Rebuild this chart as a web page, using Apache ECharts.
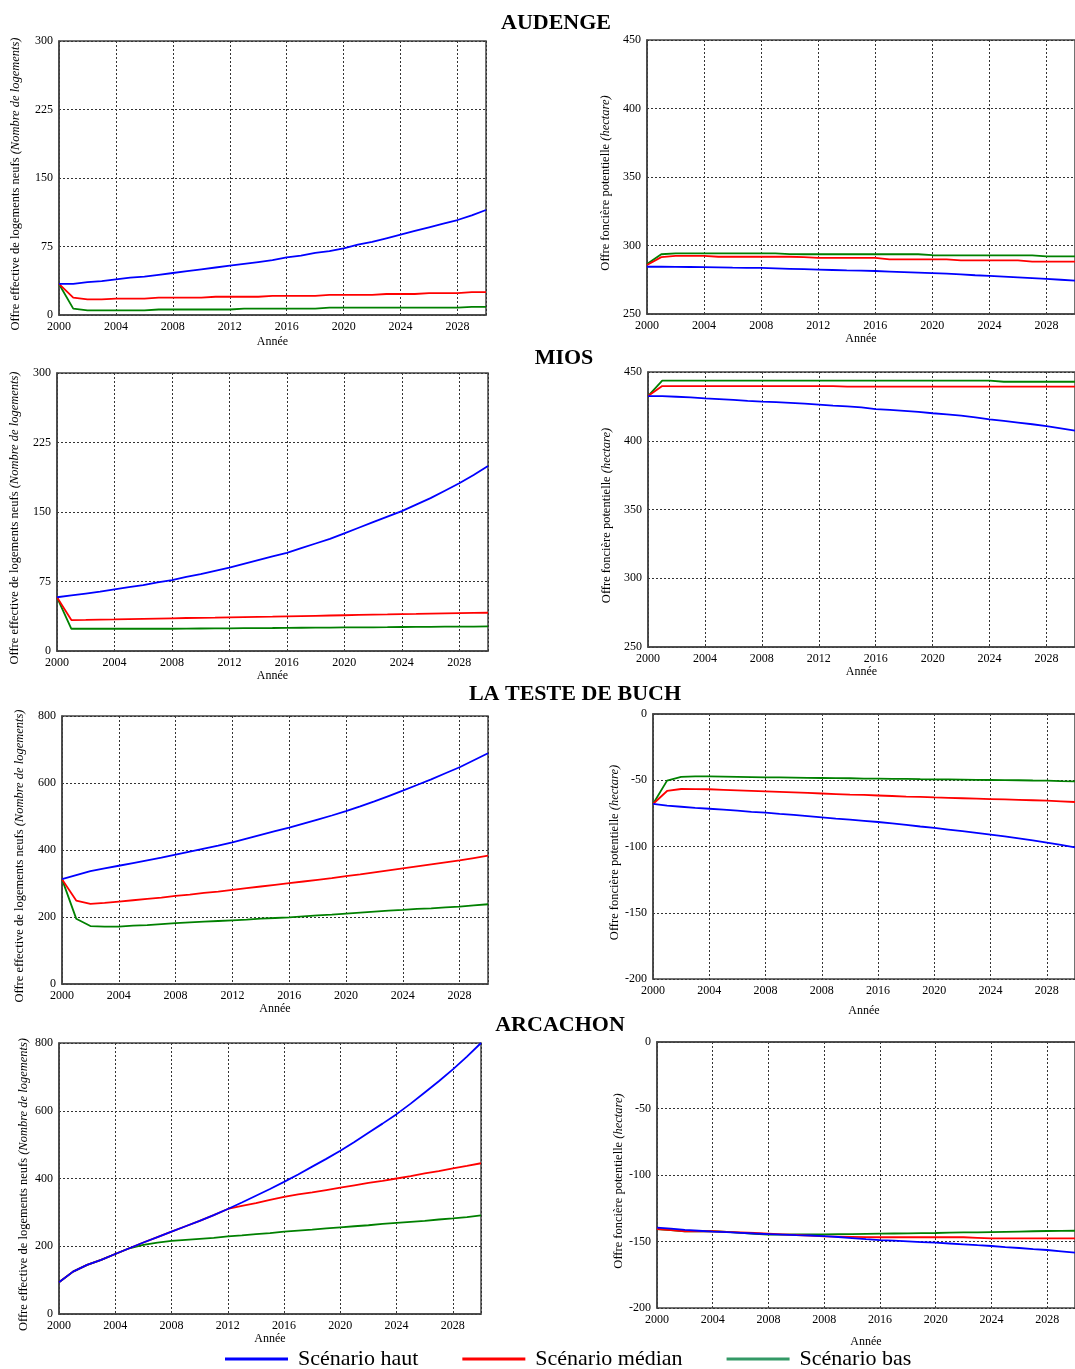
<!DOCTYPE html>
<html>
<head>
<meta charset="utf-8">
<script src="https://cdn.jsdelivr.net/npm/echarts@6/dist/echarts.min.js"></script>
<style>
html,body{margin:0;padding:0;background:#fff}
#main{width:1075px;height:1369px}
</style>
</head>
<body>
<div id="main"></div>
<script>
// années de simulation
var annees = [2000,2001,2002,2003,2004,2005,2006,2007,2008,2009,2010,2011,2012,2013,2014,2015,
              2016,2017,2018,2019,2020,2021,2022,2023,2024,2025,2026,2027,2028,2029,2030];
// libellés de l'axe des x (les deux derniers graphiques répètent 2008)
var xlabels = ['2000','2004','2008','2012','2016','2020','2024','2028'];
var xlabels_bis = ['2000','2004','2008','2008','2016','2020','2024','2028'];

var communes = ['AUDENGE','MIOS','LA TESTE DE BUCH','ARCACHON'];
var scenarios = ['Scénario haut','Scénario médian','Scénario bas'];

// AUDENGE
var audenge_log_haut = [34,34,36,37,39,41,42,44,46,48,50,52,54,56,58,60,63,65,68,70,73,77,80,84,88,92,96,100,104,109,115];
var audenge_log_median = [34,19,17,17,18,18,18,19,19,19,19,20,20,20,20,21,21,21,21,22,22,22,22,23,23,23,24,24,24,25,25];
var audenge_log_bas = [34,7,5,5,5,5,5,6,6,6,6,6,6,7,7,7,7,7,7,8,8,8,8,8,8,8,8,8,8,9,9];
var audenge_fon_haut = [284.5,284.5,284.4,284.3,284.2,284,283.8,283.7,283.6,283.3,283,282.7,282.4,282.1,281.8,281.6,
                        281.4,281,280.6,280.2,279.8,279.4,278.9,278.3,277.8,277.3,276.8,276.2,275.6,275,274.3];
var audenge_fon_median = [285.8,291.5,292.5,292.5,292.5,291.8,291.8,291.8,291.8,291.8,291.8,291.5,290.9,290.9,290.9,290.9,
                          290.9,289.9,289.9,289.9,289.9,289.9,289.2,289.2,289.2,289.2,289.2,288.2,288.2,288.2,288.2];
var audenge_fon_bas = [286.5,293.6,294.2,294.3,294.3,294.3,294.3,294.3,294.3,294.3,293.7,293.6,293.6,293.6,293.6,293.6,
                       293.6,293.6,293.6,293.6,292.9,292.8,292.8,292.8,292.8,292.8,292.8,292.8,292.1,292,292];

// MIOS
var mios_log_haut = [58,60,62,64,66.5,69,71,74,76.5,80,83,86.5,90,94,98,102,106,111,116,121,127,133,139,145,151,158,165,173,181,190,199.6];
var mios_log_median = [58,33.4,33.6,33.9,34.1,34.4,34.7,35,35.3,35.6,35.8,36,36.3,36.6,36.9,37.1,37.4,37.7,38,38.3,38.6,
                       38.9,39.2,39.5,39.9,40.1,40.4,40.7,40.9,41.1,41.3];
var mios_log_bas = [58,24,24,24,24,24,24,24,24,24.2,24.3,24.4,24.5,24.6,24.7,24.8,25,25.1,25.2,25.3,25.4,25.5,25.6,25.7,
                    25.9,26,26.1,26.2,26.3,26.4,26.5];
var mios_fon_haut = [432.5,432.4,432,431.5,430.8,430.3,429.7,429,428.4,428.1,427.6,427,426.3,425.6,425,424.3,423,422.4,
                     421.7,421,420,419.2,418.3,417,415.6,414.4,413.2,412,410.7,409,407.3];
var mios_fon_median = [432.5,439.8,439.8,439.8,439.8,439.8,439.8,439.8,439.8,439.8,439.8,439.8,439.8,439.8,439.3,439.3,
                       439.3,439.3,439.3,439.3,439.3,439.3,439.3,439.3,439.3,439.3,439.3,439.3,439.3,439.3,439.3];
var mios_fon_bas = [432.5,443.7,443.7,443.7,443.7,443.7,443.7,443.7,443.7,443.7,443.7,443.7,443.7,443.7,443.7,443.7,
                    443.7,443.7,443.7,443.7,443.7,443.7,443.7,443.7,443.7,442.9,442.9,442.9,442.9,442.9,442.9];

// LA TESTE DE BUCH
var teste_log_haut = [313,325,337,345,353,361,369,377,386,395,404,413,423,434,445,456,467,479,491,503,516,530,545,561,
                      577,594,611,629,647,668,689];
var teste_log_median = [313,249,239,242,246,250,254,258,263,267,272,276,281,286,291,296,301,306,311,316,322,327,333,339,
                        345,351,357,363,369,376,383];
var teste_log_bas = [313,195,173,171,171.5,174,176,179,182,184,186,188,190,192,195,197,199,202,205,207,210,213,216,219,
                     221,224,226,229,231,235,238];
var teste_fon_haut = [-67.9,-69.2,-70,-70.8,-71.5,-72.2,-73,-73.8,-74.5,-75.4,-76.2,-77.1,-78,-78.9,-79.7,-80.6,-81.5,
                      -82.6,-83.7,-84.9,-86,-87.2,-88.4,-89.7,-91,-92.4,-93.9,-95.4,-97,-98.8,-100.6];
var teste_fon_median = [-67.9,-58.1,-56.6,-56.7,-56.8,-57.2,-57.6,-58,-58.4,-58.8,-59.2,-59.6,-60,-60.4,-60.8,-61.1,-61.5,
                        -61.9,-62.3,-62.6,-63,-63.3,-63.6,-63.9,-64.2,-64.5,-64.8,-65.1,-65.4,-65.9,-66.4];
var teste_fon_bas = [-67.9,-50.3,-47.5,-47,-47,-47.2,-47.4,-47.6,-47.8,-47.9,-48,-48.2,-48.3,-48.4,-48.5,-48.7,-48.8,
                     -48.9,-49,-49.2,-49.3,-49.4,-49.5,-49.7,-49.8,-49.9,-50,-50.2,-50.3,-50.6,-50.8];

// ARCACHON
var arcachon_log_haut = [93.5,125,145,160,177,194,211,227,243,259,275,292,310,329,349,369,390,412,435,458,482,508,535,
                         562,590,621,654,687,722,760,800];
var arcachon_log_median = [93.5,125,145,160,177,194,211,227,243,259,275,292,310,319,327,337,346,353,359,366,373,380,387,
                           393,400,407,415,422,430,437,445];
var arcachon_log_bas = [93.5,125,145,160,177,194,204,211,216,219,222,225,229,232,236,239,243,246,249,253,256,259,262,
                        266,269,272,275,279,282,286,291];
var arcachon_fon_haut = [-139.6,-140.3,-141.2,-141.9,-142.6,-143,-143.5,-144,-144.4,-144.8,-145.2,-145.5,-145.9,-146.6,
                         -147.4,-148.2,-148.9,-149.4,-149.9,-150.4,-150.9,-151.5,-152.1,-152.8,-153.4,-154.2,-154.9,
                         -155.7,-156.4,-157.4,-158.4];
var arcachon_fon_median = [-140.6,-141.4,-142.3,-142.3,-142.3,-142.8,-143.2,-143.6,-144.1,-144.6,-145.1,-145.6,-146.1,
                           -146.3,-146.5,-146.7,-146.8,-146.8,-146.8,-146.8,-146.8,-146.8,-146.8,-147.2,-147.6,-147.6,
                           -147.6,-147.6,-147.6,-147.6,-147.6];
var arcachon_fon_bas = [-140.6,-141.4,-142.3,-142.3,-142.3,-142.8,-143.5,-144.3,-144.9,-144.8,-144.7,-144.6,-144.6,
                        -144.5,-144.4,-144.2,-144.1,-144,-143.9,-143.7,-143.6,-143.4,-143.2,-143.1,-142.9,-142.7,
                        -142.5,-142.3,-142.1,-142,-141.9];

var couleurs = ['#0000ff','#ff0000','#008000'];
var police = 'Liberation Serif';
var nomLogements = 'Offre effective de logements neufs {i|(Nombre de logements)}';
var nomFoncier = 'Offre foncière potentielle {i|(hectare)}';

// un panneau = une grille (position) + ses axes + ses trois courbes
var panneaux = [
    {pos:{left:59, top:41, width:427, height:274}, ymin:0, ymax:300, pas:75, nom:nomLogements, ngap:37, agap:21, xl:xlabels,
     series:[audenge_log_haut, audenge_log_median, audenge_log_bas]},
    {pos:{left:647, top:40, width:434, height:274}, ymin:250, ymax:450, pas:50, nom:nomFoncier, ngap:35, agap:19, xl:xlabels,
     series:[audenge_fon_haut, audenge_fon_median, audenge_fon_bas]},
    {pos:{left:57, top:373, width:431, height:278}, ymin:0, ymax:300, pas:75, nom:nomLogements, ngap:36, agap:17, xl:xlabels,
     series:[mios_log_haut, mios_log_median, mios_log_bas]},
    {pos:{left:648, top:372, width:434, height:275}, ymin:250, ymax:450, pas:50, nom:nomFoncier, ngap:35, agap:18, xl:xlabels,
     series:[mios_fon_haut, mios_fon_median, mios_fon_bas]},
    {pos:{left:62, top:716, width:426, height:268}, ymin:0, ymax:800, pas:200, nom:nomLogements, ngap:36, agap:17, xl:xlabels,
     series:[teste_log_haut, teste_log_median, teste_log_bas]},
    {pos:{left:653, top:714, width:422, height:265}, ymin:-200, ymax:0, pas:50, nom:nomFoncier, ngap:29, agap:26, xl:xlabels_bis,
     series:[teste_fon_haut, teste_fon_median, teste_fon_bas]},
    {pos:{left:59, top:1043, width:422, height:271}, ymin:0, ymax:800, pas:200, nom:nomLogements, ngap:29, agap:19, xl:xlabels,
     series:[arcachon_log_haut, arcachon_log_median, arcachon_log_bas]},
    {pos:{left:657, top:1042, width:424, height:266}, ymin:-200, ymax:0, pas:50, nom:nomFoncier, ngap:31, agap:28, xl:xlabels_bis,
     series:[arcachon_fon_haut, arcachon_fon_median, arcachon_fon_bas]}
];

// positions des titres de commune (centre x, haut)
var titresPos = [[556, 12], [564, 347], [575, 683], [560, 1014]];

function paires(valeurs){
    var res = [];
    for (var i = 0; i < annees.length; i++) {
        res.push([annees[i], valeurs[i]]);
    }
    return res;
}

function construireOption(){
    var grids = [], xAxes = [], yAxes = [], series = [], titres = [];

    for (var t = 0; t < communes.length; t++) {
        titres.push({
            text: communes[t], left: titresPos[t][0], top: titresPos[t][1], textAlign: 'center', padding: 0,
            textStyle: {fontFamily: police, fontSize: 22, fontWeight: 'bold', color: '#000'}
        });
    }

    panneaux.forEach(function (p, i) {
        grids.push({
            left: p.pos.left, top: p.pos.top, width: p.pos.width, height: p.pos.height,
            show: true, borderColor: '#444', borderWidth: 1.5
        });
        var xl = p.xl;
        xAxes.push({
            type: 'value', gridIndex: i, min: 2000, max: 2030, interval: 4,
            name: 'Année', nameLocation: 'middle', nameGap: p.agap,
            nameTextStyle: {fontFamily: police, fontSize: 12, color: '#000'},
            axisLine: {show: true, lineStyle: {color: '#444', width: 1.5}},
            axisTick: {show: false},
            axisLabel: {
                fontFamily: police, fontSize: 12, color: '#000', margin: 6, showMaxLabel: false,
                formatter: function (v) { return xl[(v - 2000) / 4] || ''; }
            },
            splitLine: {show: true, lineStyle: {type: [2, 2], color: '#333', width: 1}}
        });
        yAxes.push({
            type: 'value', gridIndex: i, min: p.ymin, max: p.ymax, interval: p.pas,
            name: p.nom, nameLocation: 'middle', nameGap: p.ngap,
            nameTextStyle: {
                fontFamily: police, fontSize: 12.5, color: '#000', padding: [0, 12, 0, 0],
                rich: {i: {fontFamily: police, fontSize: 12.5, fontStyle: 'italic', color: '#000'}}
            },
            axisLine: {show: true, lineStyle: {color: '#444', width: 1.5}},
            axisTick: {show: false},
            axisLabel: {fontFamily: police, fontSize: 12, color: '#000', margin: 6},
            splitLine: {show: true, lineStyle: {type: [2, 2], color: '#333', width: 1}}
        });
        // ordre de tracé : bas, médian, haut (haut au-dessus)
        for (var s = 2; s >= 0; s--) {
            series.push({
                name: scenarios[s], type: 'line', xAxisIndex: i, yAxisIndex: i,
                data: paires(p.series[s]), showSymbol: false, symbol: 'none',
                lineStyle: {color: couleurs[s], width: 1.8}, itemStyle: {color: couleurs[s]},
                animation: false
            });
        }
    });

    return {
        backgroundColor: '#fff',
        animation: false,
        title: titres,
        legend: {
            left: 225, top: 1348, padding: 0, icon: 'rect', itemWidth: 63, itemHeight: 3, itemGap: 44,
            selectedMode: false,
            textStyle: {fontFamily: police, fontSize: 22, color: '#000', padding: [0, 0, 0, 5]},
            data: [
                {name: 'Scénario haut'},
                {name: 'Scénario médian'},
                {name: 'Scénario bas', itemStyle: {color: '#339966'}}
            ]
        },
        grid: grids,
        xAxis: xAxes,
        yAxis: yAxes,
        series: series
    };
}

var myChart = echarts.init(document.getElementById('main'));
myChart.setOption(construireOption());
</script>
</body>
</html>
